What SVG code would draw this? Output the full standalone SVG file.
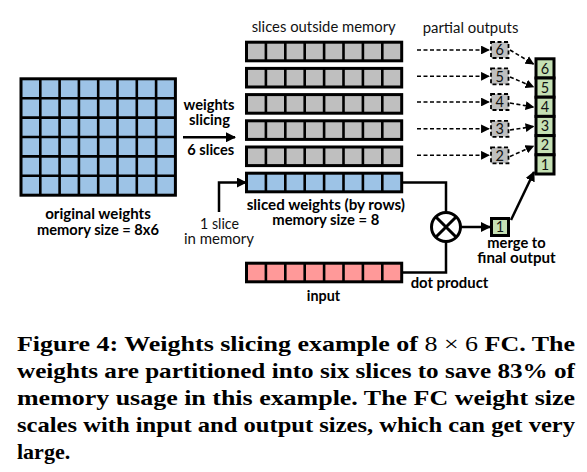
<svg xmlns="http://www.w3.org/2000/svg" xmlns:xlink="http://www.w3.org/1999/xlink" width="587" height="472" viewBox="0 0 587 472">
<style>
.b{font-family:Lato,"Open Sans","Liberation Sans",sans-serif;font-weight:bold;font-size:14.5px;fill:#000;text-anchor:middle}
.r{font-family:Lato,"Open Sans","Liberation Sans",sans-serif;font-weight:normal;font-size:14.5px;fill:#111;text-anchor:middle}
.d{font-family:Lato,"Open Sans","Liberation Sans",sans-serif;font-weight:normal;font-size:14.5px;fill:#111;text-anchor:middle}
.cap{font-family:"Liberation Serif","DejaVu Serif",serif;font-weight:bold;font-size:22px;fill:#000}
.cell{stroke:#000;stroke-width:3}
.sep{stroke:#000;stroke-width:2.6;fill:none}
.con{stroke:#000;stroke-width:2.5;fill:none}
.dash{stroke:#000;stroke-width:1.6;fill:none;stroke-dasharray:4 2.5}
.dbox{stroke:#000;stroke-width:1.8;fill:#BFBFBF;stroke-dasharray:4 2.5}
.blue{fill:#9DC3E6}.gray{fill:#BFBFBF}.pink{fill:#FF9999}.green{fill:#C5E0B4}
</style>
<defs>
<marker id="ah" viewBox="0 0 10 10" refX="9" refY="5" markerWidth="4" markerHeight="4" markerUnits="strokeWidth" orient="auto"><path d="M0,0L10,5L0,10z" fill="#000"/></marker>
<marker id="ahs" viewBox="0 0 10 10" refX="9" refY="5" markerWidth="5.5" markerHeight="5.5" markerUnits="strokeWidth" orient="auto"><path d="M0,0L10,5L0,10z" fill="#000"/></marker>
<path id="rowsep" d="M265.9,0V18.6M285.3,0V18.6M304.7,0V18.6M324.1,0V18.6M343.5,0V18.6M362.9,0V18.6M382.3,0V18.6" class="sep"/>
</defs>

<g id="original-weights">
<rect x="21" y="78.8" width="154.4" height="116.4" class="blue cell"/>
<path class="sep" stroke-width="3" d="M40.3,78.8V195.2M59.6,78.8V195.2M78.9,78.8V195.2M98.2,78.8V195.2M117.5,78.8V195.2M136.8,78.8V195.2M156.1,78.8V195.2M21,98.2H175.4M21,117.6H175.4M21,137H175.4M21,156.4H175.4M21,175.8H175.4"/>
<text class="b" x="98" y="219.3" textLength="105.7" lengthAdjust="spacingAndGlyphs">original weights</text>
<text class="b" x="98" y="235" textLength="122" lengthAdjust="spacingAndGlyphs">memory size = 8x6</text>
</g>

<g id="slicing-label">
<text class="b" x="209" y="110" textLength="51" lengthAdjust="spacingAndGlyphs">weights</text>
<text class="b" x="209.5" y="124.5" textLength="41" lengthAdjust="spacingAndGlyphs">slicing</text>
<text class="b" x="210.8" y="155" textLength="47" lengthAdjust="spacingAndGlyphs">6 slices</text>
</g>

<g id="slices-outside">
<text class="r" x="323.7" y="32" textLength="144" lengthAdjust="spacingAndGlyphs">slices outside memory</text>
<rect x="246.5" y="42.2" width="155.2" height="18.6" class="gray cell"/><use xlink:href="#rowsep" y="42.2"/>
<rect x="246.5" y="68.4" width="155.2" height="18.6" class="gray cell"/><use xlink:href="#rowsep" y="68.4"/>
<rect x="246.5" y="94.6" width="155.2" height="18.6" class="gray cell"/><use xlink:href="#rowsep" y="94.6"/>
<rect x="246.5" y="120.8" width="155.2" height="18.6" class="gray cell"/><use xlink:href="#rowsep" y="120.8"/>
<rect x="246.5" y="147" width="155.2" height="18.6" class="gray cell"/><use xlink:href="#rowsep" y="147"/>
</g>

<g id="sliced-weights">
<rect x="246.5" y="173.2" width="155.2" height="18.6" class="blue cell"/><use xlink:href="#rowsep" y="173.2"/>
<text class="b" x="325.8" y="210" textLength="158.3" lengthAdjust="spacingAndGlyphs">sliced weights (by rows)</text>
<text class="b" x="325.8" y="224.5" textLength="107" lengthAdjust="spacingAndGlyphs">memory size = 8</text>
</g>

<g id="one-slice-label">
<text class="r" x="219.5" y="229" textLength="39" lengthAdjust="spacingAndGlyphs">1 slice</text>
<text class="r" x="219" y="244.3" textLength="70" lengthAdjust="spacingAndGlyphs">in memory</text>
</g>

<g id="input">
<rect x="246.5" y="263.2" width="155.2" height="18.6" class="pink cell"/><use xlink:href="#rowsep" y="263.2"/>
<text class="b" x="323.5" y="301" textLength="33.3" lengthAdjust="spacingAndGlyphs">input</text>
</g>

<g id="partial-outputs">
<text class="r" x="470.5" y="33" textLength="95.7" lengthAdjust="spacingAndGlyphs">partial outputs</text>
<rect x="491" y="42" width="17.5" height="16" class="dbox"/>
<rect x="491" y="68.3" width="17.5" height="16" class="dbox"/>
<rect x="491" y="94" width="17.5" height="16" class="dbox"/>
<rect x="491" y="120.8" width="17.5" height="16" class="dbox"/>
<rect x="491" y="147.3" width="17.5" height="16" class="dbox"/>
<text class="d" x="499.8" y="55.3">6</text>
<text class="d" x="499.8" y="81.6">5</text>
<text class="d" x="499.8" y="107.3">4</text>
<text class="d" x="499.8" y="134.1">3</text>
<text class="d" x="499.8" y="160.6">2</text>
</g>

<g id="final-output">
<rect x="536" y="58.8" width="18" height="19.2" class="green cell"/>
<rect x="536" y="78" width="18" height="19.2" class="green cell"/>
<rect x="536" y="97.2" width="18" height="19.2" class="green cell"/>
<rect x="536" y="116.4" width="18" height="19.2" class="green cell"/>
<rect x="536" y="135.6" width="18" height="19.2" class="green cell"/>
<rect x="536" y="154.8" width="18" height="19.2" class="green cell"/>
<text class="d" x="545" y="73.6">6</text>
<text class="d" x="545" y="92.8">5</text>
<text class="d" x="545" y="112">4</text>
<text class="d" x="545" y="131.2">3</text>
<text class="d" x="545" y="150.4">2</text>
<text class="d" x="545" y="169.6">1</text>
</g>

<g id="dot-product">
<circle cx="446" cy="227" r="14.5" fill="#fff" stroke="#000" stroke-width="3"/>
<path d="M435.7,216.7L456.3,237.3M456.3,216.7L435.7,237.3" stroke="#000" stroke-width="3"/>
<text class="b" x="449.5" y="288.3" textLength="77.7" lengthAdjust="spacingAndGlyphs">dot product</text>
</g>

<g id="merge">
<rect x="491.5" y="218.5" width="17" height="17" class="green cell"/>
<text class="d" x="500" y="232.2">1</text>
<text class="b" x="516.5" y="248.3" textLength="58.3" lengthAdjust="spacingAndGlyphs">merge to</text>
<text class="b" x="516.5" y="263.3" textLength="78.3" lengthAdjust="spacingAndGlyphs">final output</text>
</g>

<g id="connectors">
<path class="con" stroke-width="2" d="M183,137.3H235" marker-end="url(#ah)"/>
<path class="con" stroke-width="2" d="M219,212V182.5H246" marker-end="url(#ah)"/>
<path class="con" d="M403,182.5H446V212"/>
<path class="con" d="M403,272.5H446V242"/>
<path class="con" stroke-width="2" d="M461,227H490" marker-end="url(#ah)"/>
<path class="con" d="M511,220L534,172" marker-end="url(#ah)"/>
<path class="dash" d="M417,50H489" marker-end="url(#ahs)"/>
<path class="dash" d="M417,76.3H489" marker-end="url(#ahs)"/>
<path class="dash" d="M417,102H489" marker-end="url(#ahs)"/>
<path class="dash" d="M417,128.8H489" marker-end="url(#ahs)"/>
<path class="dash" d="M417,155.3H489" marker-end="url(#ahs)"/>
<path class="dash" d="M510,50L533.5,64" marker-end="url(#ahs)"/>
<path class="dash" d="M510,77L533.5,87" marker-end="url(#ahs)"/>
<path class="dash" d="M510,103L533.5,107" marker-end="url(#ahs)"/>
<path class="dash" d="M510,130L533.5,126.5" marker-end="url(#ahs)"/>
<path class="dash" d="M510,156.5L533.5,146" marker-end="url(#ahs)"/>
</g>

<g id="caption">
<text class="cap" x="17" y="351" textLength="558" lengthAdjust="spacingAndGlyphs">Figure 4: Weights slicing example of <tspan font-weight="normal">8 × 6</tspan> FC. The</text>
<text class="cap" x="17" y="378" textLength="558" lengthAdjust="spacingAndGlyphs">weights are partitioned into six slices to save 83% of</text>
<text class="cap" x="17" y="405" textLength="558" lengthAdjust="spacingAndGlyphs">memory usage in this example. The FC weight size</text>
<text class="cap" x="17" y="432" textLength="558" lengthAdjust="spacingAndGlyphs">scales with input and output sizes, which can get very</text>
<text class="cap" x="17" y="459">large.</text>
</g>
</svg>
